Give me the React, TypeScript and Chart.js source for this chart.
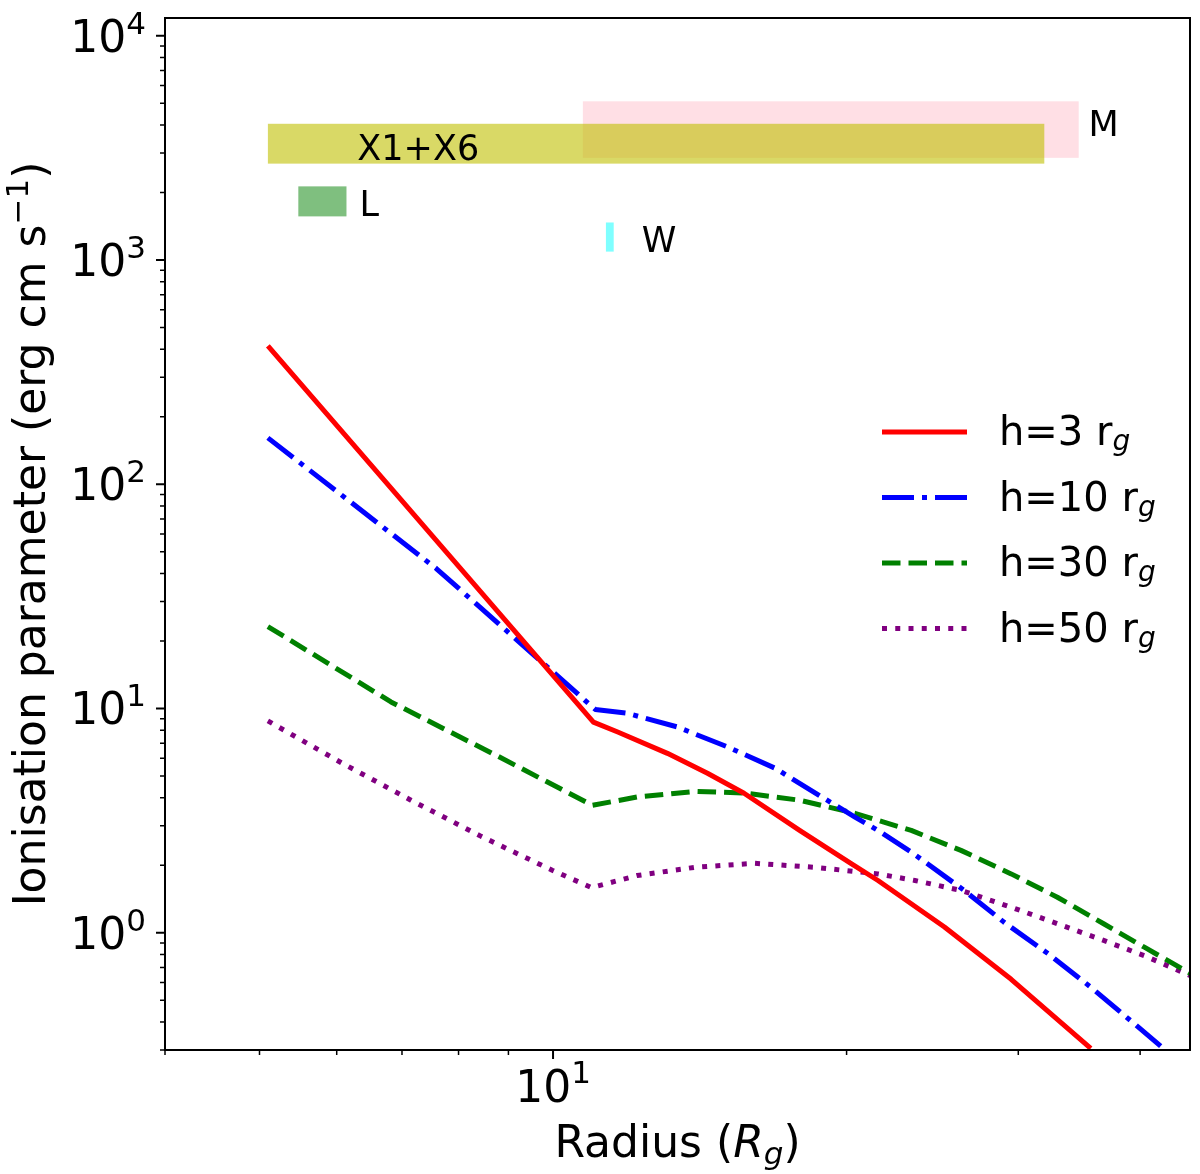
import React, { useEffect, useRef } from "react";
import { Chart, registerables } from "chart.js";

Chart.register(...registerables);

// ---- data ----
const seriesHeights = ["3", "10", "30", "50"];

const redR = [5.1, 6.69, 11.0, 11.65, 13.1, 14.4, 15.7, 17.9, 20.2, 21.54, 25.2, 29.5, 35.6];
const redV = [414, 106, 8.7, 7.86, 6.31, 5.14, 4.19, 2.86, 2.04, 1.71, 1.06, 0.62, 0.305];

const blueR = [5.1, 7.59, 11.05, 11.9, 13.4, 15.1, 16.9, 19.1, 20.4, 21.54, 23.3, 26.4, 29.0, 32.2, 35.6, 39.1, 42.1, 42.5];
const blueV = [161, 42.1, 9.9, 9.53, 8.28, 6.74, 5.41, 3.9, 3.28, 2.86, 2.29, 1.545, 1.115, 0.806, 0.572, 0.406, 0.309, 0.298];

const greenR = [5.1, 6.82, 8.67, 10.97, 12.2, 14.0, 15.7, 17.9, 20.4, 21.8, 23.3, 26.2, 29.5, 32.9, 36.7, 40.4, 45];
const greenV = [23.2, 10.7, 6.3, 3.7, 4.03, 4.27, 4.2, 3.9, 3.41, 3.12, 2.86, 2.33, 1.83, 1.44, 1.097, 0.862, 0.66];

const purpleR = [5.1, 6.07, 7.15, 8.44, 9.98, 10.95, 12.2, 14.0, 16.1, 18.5, 21.54, 23.5, 26.2, 29.5, 32.9, 36.7, 40.4, 45];
const purpleV = [8.8, 5.72, 3.9, 2.69, 1.9, 1.59, 1.8, 1.96, 2.04, 1.96, 1.83, 1.71, 1.545, 1.3, 1.097, 0.924, 0.79, 0.645];

const bandLabels = ["M", "X1+X6", "L", "W"];
const bandR0 = [10.73, 5.1, 5.48, 11.33];
const bandR1 = [34.6, 31.9, 6.14, 11.54];
const bandLo = [2855, 2690, 1565, 1090];
const bandHi = [5100, 4050, 2130, 1470];
const bandLabelR = [35.4, 6.3, 6.33, 12.33];
const bandLabelV = [3564, 2805, 1565, 1089];

const xMajorTicks = [10];
const xMajorExp = ["1"];
const xMinorTicks = [4, 5, 6, 7, 8, 9, 20, 30, 40];
const yMajorTicks = [1, 10, 100, 1000, 10000];
const yMajorExp = ["0", "1", "2", "3", "4"];
const yMinorTicks = [
  0.3, 0.4, 0.5, 0.6, 0.7, 0.8, 0.9,
  2, 3, 4, 5, 6, 7, 8, 9,
  20, 30, 40, 50, 60, 70, 80, 90,
  200, 300, 400, 500, 600, 700, 800, 900,
  2000, 3000, 4000, 5000, 6000, 7000, 8000, 9000,
];

// ---- styles ----
const lineColors = ["#ff0000", "#0000ff", "#008000", "#800080"];
const lineDashes: number[][] = [[], [32, 8, 5, 8], [18.5, 8], [5, 8.25]];
const bandColors = [
  "rgba(255,192,203,0.5)",
  "rgba(191,191,0,0.6)",
  "rgba(0,128,0,0.5)",
  "rgba(0,255,255,0.5)",
];
const FONT = '"DejaVu Sans", "Liberation Sans", sans-serif';

type Seg = { t: string; size: number; italic?: boolean; dy?: number };
const segFont = (s: Seg) => `${s.italic ? "italic " : ""}${s.size}px ${FONT}`;

function drawRich(ctx: CanvasRenderingContext2D, segs: Seg[], x: number, y: number, align: "left" | "center" | "right") {
  let w = 0;
  for (const s of segs) {
    ctx.font = segFont(s);
    w += ctx.measureText(s.t).width;
  }
  let cx = align === "left" ? x : align === "center" ? x - w / 2 : x - w;
  ctx.textAlign = "left";
  ctx.textBaseline = "alphabetic";
  for (const s of segs) {
    ctx.font = segFont(s);
    ctx.fillText(s.t, cx, y + (s.dy || 0));
    cx += ctx.measureText(s.t).width;
  }
}

const decorPlugin = {
  id: "decor",
  beforeDatasetsDraw(chart: any) {
    const { ctx, chartArea: a, scales } = chart;
    const x = scales.x, y = scales.y;
    ctx.save();
    ctx.beginPath();
    ctx.rect(a.left, a.top, a.right - a.left, a.bottom - a.top);
    ctx.clip();
    for (let i = 0; i < bandLabels.length; i++) {
      const x0 = x.getPixelForValue(bandR0[i]);
      const x1 = x.getPixelForValue(bandR1[i]);
      const y0 = y.getPixelForValue(bandHi[i]);
      const y1 = y.getPixelForValue(bandLo[i]);
      ctx.fillStyle = bandColors[i];
      ctx.fillRect(x0, y0, x1 - x0, y1 - y0);
    }
    ctx.fillStyle = "#000";
    for (let i = 0; i < bandLabels.length; i++) {
      drawRich(ctx, [{ t: bandLabels[i], size: 35 }], x.getPixelForValue(bandLabelR[i]), y.getPixelForValue(bandLabelV[i]), "left");
    }
    ctx.restore();
  },
  afterDraw(chart: any) {
    const { ctx, chartArea: a, scales } = chart;
    const x = scales.x, y = scales.y;
    ctx.save();
    ctx.strokeStyle = "#000";
    ctx.fillStyle = "#000";
    // frame
    ctx.lineWidth = 2;
    ctx.strokeRect(a.left, a.top, a.right - a.left, a.bottom - a.top);
    // ticks
    const tick = (px: number, py: number, dx: number, dy: number, w: number) => {
      ctx.lineWidth = w;
      ctx.beginPath();
      ctx.moveTo(px, py);
      ctx.lineTo(px + dx, py + dy);
      ctx.stroke();
    };
    for (const v of xMajorTicks) tick(x.getPixelForValue(v), a.bottom, 0, 9, 2);
    for (const v of xMinorTicks) tick(x.getPixelForValue(v), a.bottom, 0, 5, 1.5);
    for (const v of yMajorTicks) tick(a.left, y.getPixelForValue(v), -9, 0, 2);
    for (const v of yMinorTicks) tick(a.left, y.getPixelForValue(v), -5, 0, 1.5);
    // tick labels
    xMajorTicks.forEach((v, i) => {
      drawRich(ctx, [{ t: "10", size: 44 }, { t: xMajorExp[i], size: 31, dy: -19 }], x.getPixelForValue(v), a.bottom + 52, "center");
    });
    yMajorTicks.forEach((v, i) => {
      drawRich(ctx, [{ t: "10", size: 44 }, { t: yMajorExp[i], size: 31, dy: -18 }], a.left - 19, y.getPixelForValue(v) + 16, "right");
    });
    // axis titles
    drawRich(
      ctx,
      [
        { t: "Radius (", size: 44 },
        { t: "R", size: 44, italic: true },
        { t: "g", size: 31, italic: true, dy: 7 },
        { t: ")", size: 44 },
      ],
      (a.left + a.right) / 2,
      1157,
      "center"
    );
    ctx.save();
    ctx.translate(45, (a.top + a.bottom) / 2);
    ctx.rotate(-Math.PI / 2);
    drawRich(
      ctx,
      [
        { t: "Ionisation parameter (erg cm s", size: 44 },
        { t: "\u22121", size: 31, dy: -17 },
        { t: ")", size: 44 },
      ],
      0,
      0,
      "center"
    );
    ctx.restore();
    // legend
    const legY = [432, 497.5, 563, 628.5];
    for (let i = 0; i < seriesHeights.length; i++) {
      ctx.strokeStyle = lineColors[i];
      ctx.lineWidth = 5;
      ctx.setLineDash(lineDashes[i]);
      ctx.lineCap = "butt";
      ctx.beginPath();
      ctx.moveTo(882, legY[i]);
      ctx.lineTo(967, legY[i]);
      ctx.stroke();
      ctx.setLineDash([]);
      ctx.fillStyle = "#000";
      drawRich(
        ctx,
        [
          { t: `h=${seriesHeights[i]} r`, size: 40 },
          { t: "g", size: 28, italic: true, dy: 5 },
        ],
        999,
        legY[i] + 13,
        "left"
      );
    }
    ctx.restore();
  },
};

export default function App() {
  const canvasRef = useRef<HTMLCanvasElement | null>(null);

  useEffect(() => {
    const canvas = canvasRef.current;
    if (!canvas) return;
    const rs = [redR, blueR, greenR, purpleR];
    const vs = [redV, blueV, greenV, purpleV];
    const datasets = rs.map((r, k) => ({
      label: `h=${seriesHeights[k]} r_g`,
      data: r.map((xv, i) => ({ x: xv, y: vs[k][i] })),
      borderColor: lineColors[k],
      backgroundColor: lineColors[k],
      borderWidth: 5,
      borderDash: lineDashes[k],
      borderJoinStyle: "round" as const,
      borderCapStyle: "butt" as const,
      pointRadius: 0,
      pointHoverRadius: 0,
      tension: 0,
      fill: false,
    }));
    const chart = new Chart(canvas, {
      type: "line",
      data: { datasets },
      options: {
        animation: false,
        responsive: false,
        events: [],
        layout: { padding: { top: 18, right: 10, left: 0, bottom: 0 } },
        plugins: { legend: { display: false }, tooltip: { enabled: false }, title: { display: false } },
        scales: {
          x: {
            type: "logarithmic",
            min: 4,
            max: 45,
            ticks: { display: false },
            grid: { display: false },
            border: { display: false },
            afterFit: (s: any) => {
              s.height = 124;
            },
          },
          y: {
            type: "logarithmic",
            min: 0.3,
            max: 12000,
            ticks: { display: false },
            grid: { display: false },
            border: { display: false },
            afterFit: (s: any) => {
              s.width = 165;
            },
          },
        },
      } as any,
      plugins: [decorPlugin],
    });
    return () => chart.destroy();
  }, []);

  return (
    <div style={{ position: "fixed", left: 0, top: 0, width: 1200, height: 1174, background: "#ffffff" }}>
      <canvas ref={canvasRef} width={1200} height={1174} style={{ width: 1200, height: 1174, display: "block" }} />
    </div>
  );
}
